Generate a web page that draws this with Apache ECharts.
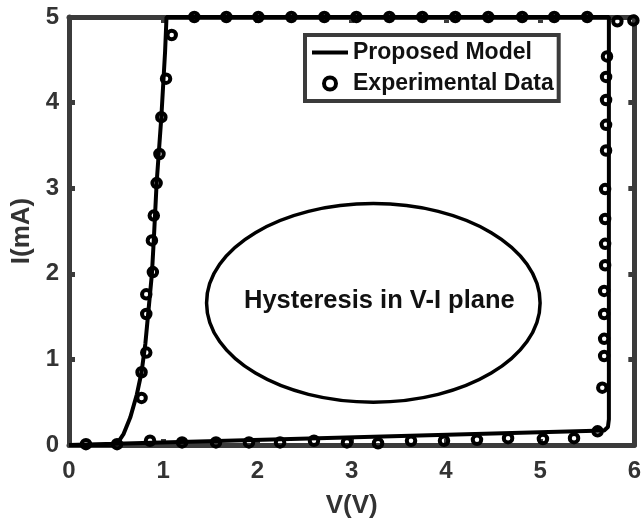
<!DOCTYPE html>
<html><head><meta charset="utf-8">
<title>Hysteresis V-I</title>
<script src="https://cdn.jsdelivr.net/npm/echarts@6/dist/echarts.min.js"></script>
</head>
<body style="margin:0;background:#fff">
<div id="main" style="width:644px;height:526px"></div>
<script>
// model curve: forward rise, top plateau, drop at ~5.7 V, slow return along bottom
var modelCurve = [
  [0, 0], [0.45, 0], [0.52, 0.03], [0.58, 0.13], [0.65, 0.32], [0.72, 0.59],
  [0.77, 0.85], [0.81, 1.18], [0.84, 1.53], [0.88, 2.0], [0.9, 2.4], [0.93, 3.06],
  [0.98, 3.83], [1.02, 4.6], [1.035, 5], [5.73, 5], [5.73, 0.3], [5.72, 0.21],
  [5.68, 0.17], [0, 0]
];
var expForward = [
  [0.18, 0.01], [0.51, 0.01], [0.77, 0.55], [0.77, 0.85], [0.82, 1.08], [0.82, 1.53],
  [0.82, 1.76], [0.89, 2.02], [0.88, 2.39], [0.9, 2.68], [0.93, 3.06], [0.96, 3.4],
  [0.98, 3.83], [1.03, 4.28], [1.09, 4.79]
];
var expTop = [
  [1.33, 5], [1.67, 5], [2.01, 5], [2.36, 5], [2.71, 5], [3.05, 5], [3.4, 5],
  [3.75, 5], [4.1, 5], [4.45, 5], [4.81, 5], [5.15, 5], [5.5, 5], [5.82, 4.95], [5.99, 4.96]
];
var expDrop = [
  [5.71, 4.54], [5.7, 4.3], [5.7, 4.03], [5.7, 3.74], [5.7, 3.44], [5.69, 2.99],
  [5.69, 2.64], [5.69, 2.35], [5.69, 2.1], [5.68, 1.8], [5.68, 1.53], [5.68, 1.24],
  [5.68, 1.04], [5.66, 0.67], [5.61, 0.16]
];
var expReturn = [
  [0.86, 0.05], [1.2, 0.03], [1.56, 0.03], [1.91, 0.03], [2.24, 0.03], [2.6, 0.05],
  [2.95, 0.03], [3.28, 0.02], [3.63, 0.05], [3.98, 0.05], [4.33, 0.06], [4.66, 0.08],
  [5.03, 0.07], [5.36, 0.08]
];
var expData = expForward.concat(expTop, expDrop, expReturn);

var annotationText = 'Hysteresis in V-I plane';
var ellipseCenter = [3.23, 1.66];
var ellipseRadii = [1.77, 1.16];

var font = '"Liberation Sans", Arial, sans-serif';
var axisColor = '#3b3b3b';

var chart = echarts.init(document.getElementById('main'));

function frameAxis(extra) {
  var a = {
    type: 'value',
    axisLine: { show: true, onZero: false, lineStyle: { color: axisColor, width: 5 } },
    axisTick: { show: true, inside: true, length: 6, lineStyle: { color: axisColor, width: 5 } },
    splitLine: { show: false },
    axisLabel: { show: false }
  };
  for (var k in extra) a[k] = extra[k];
  return a;
}

var labelStyle = { show: true, color: '#333', fontFamily: font, fontWeight: 'bold', fontSize: 24 };

var option = {
  animation: false,
  backgroundColor: '#fff',
  grid: { left: 69, right: 3, top: 17, bottom: 81 },
  xAxis: [
    frameAxis({ min: 0, max: 6, interval: 1, position: 'bottom',
      axisLabel: Object.assign({ margin: 14 }, labelStyle),
      name: 'V(V)', nameLocation: 'middle', nameGap: 48,
      nameTextStyle: { color: '#333', fontFamily: font, fontWeight: 'bold', fontSize: 26 } }),
    frameAxis({ min: 0, max: 6, interval: 1, position: 'top' })
  ],
  yAxis: [
    frameAxis({ min: 0, max: 5, interval: 1, position: 'left',
      axisLabel: Object.assign({ margin: 10 }, labelStyle),
      name: 'I(mA)', nameLocation: 'middle', nameGap: 27,
      nameTextStyle: { color: '#333', fontFamily: font, fontWeight: 'bold', fontSize: 26 } }),
    frameAxis({ min: 0, max: 5, interval: 1, position: 'right' })
  ],
  legend: {
    left: 305, top: 35,
    orient: 'vertical',
    padding: [6, 5, 6, 7],
    itemGap: 8,
    itemWidth: 36, itemHeight: 12,
    backgroundColor: '#fff',
    borderColor: '#3b3b3b', borderWidth: 4,
    textStyle: { color: '#111', fontFamily: font, fontWeight: 'bold', fontSize: 23 },
    data: [
      { name: 'Proposed Model', icon: 'path://M0,0M0,4L36,4L36,8L0,8ZM36,12',
        itemStyle: { color: '#000', borderWidth: 0 } },
      { name: 'Experimental Data', icon: 'circle',
        itemStyle: { color: '#fff', borderColor: '#000', borderWidth: 4 } }
    ]
  },
  series: [
    {
      name: 'Experimental Data', type: 'scatter', z: 2, clip: false,
      symbol: 'circle', symbolSize: 8.5,
      itemStyle: { color: 'rgba(255,255,255,0)', borderColor: '#000', borderWidth: 4, opacity: 1 },
      data: expData
    },
    {
      name: 'Proposed Model', type: 'line', z: 3,
      showSymbol: false, symbol: 'none',
      lineStyle: { color: '#000', width: 4 },
      itemStyle: { color: '#000' },
      data: modelCurve
    }
  ]
};
chart.setOption(option);

// annotation ellipse placed in data coordinates
var c = chart.convertToPixel({ gridIndex: 0 }, ellipseCenter);
var e = chart.convertToPixel({ gridIndex: 0 }, [ellipseCenter[0] + ellipseRadii[0], ellipseCenter[1] + ellipseRadii[1]]);
chart.setOption({
  graphic: [
    {
      type: 'ellipse', z: 5,
      shape: { cx: c[0], cy: c[1], rx: e[0] - c[0], ry: c[1] - e[1] },
      style: { fill: 'transparent', stroke: '#000', lineWidth: 3.5 }
    },
    {
      type: 'text', z: 6,
      x: c[0] + 6, y: c[1] - 2,
      style: { text: annotationText, fill: '#111', font: 'bold 25.5px ' + font,
        textAlign: 'center', textVerticalAlign: 'middle' }
    }
  ]
});
</script>
</body></html>
